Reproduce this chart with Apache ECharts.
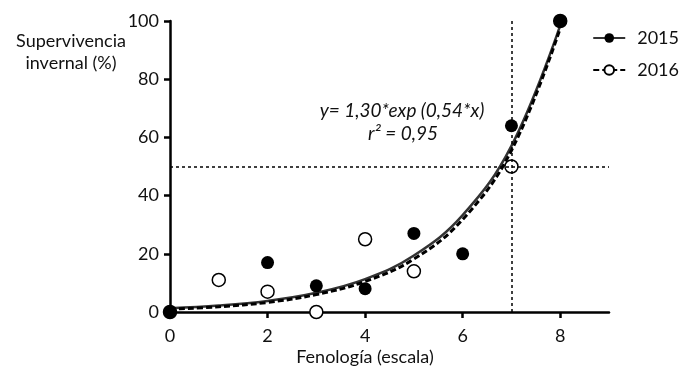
<!DOCTYPE html>
<html>
<head>
<meta charset="utf-8">
<script src="https://cdn.jsdelivr.net/npm/echarts@6/dist/echarts.min.js"></script>
<style>
  html, body { margin: 0; padding: 0; background: #fff; }
  #chart { width: 679px; height: 369px; }
</style>
</head>
<body>
<div id="chart"></div>
<script>
// observed points (fenologia, supervivencia %)
const obs2015 = [[0, 0], [2, 17], [3, 9], [4, 8], [5, 27], [6, 20], [7, 64], [8, 100]];
const obs2016 = [[0, 0], [1, 11], [2, 7], [3, 0], [4, 25], [5, 14], [7, 50], [8, 100]];

// fitted curves
const fitX = [0, 1, 2, 3, 4, 5, 6, 7, 8];
const fit2015 = [1.3, 2.2, 3.8, 6.6, 11.3, 19.4, 33.3, 57.1, 98.5];
const fit2016 = [1.0, 1.8, 3.3, 6.0, 10.5, 18.2, 31.8, 55.5, 97.5];

const xTicks = [0, 2, 4, 6, 8];
const refX = 7;
const refY = 50;

const chart = echarts.init(document.getElementById('chart'));
const font = 'Lato, "DejaVu Sans", sans-serif';

const option = {
  animation: false,
  textStyle: { fontFamily: font },
  grid: { left: 170, right: 70, top: 21, bottom: 57 },
  legend: {
    data: ['2015', '2016'],
    orient: 'vertical',
    right: 0,
    top: 29,
    padding: 0,
    itemWidth: 32,
    itemHeight: 12,
    itemGap: 14,
    textStyle: { fontSize: 18, color: '#111', fontFamily: font, padding: [0, 0, 0, 7], overflow: 'none' }
  },
  xAxis: {
    type: 'value',
    min: 0,
    max: 9,
    interval: 1,
    splitLine: { show: false },
    axisLine: { lineStyle: { color: '#000', width: 2.5 } },
    axisTick: { length: 6, lineStyle: { width: 2.5, color: '#000' }, customValues: xTicks },
    axisLabel: { fontSize: 18, color: '#111', margin: 15, customValues: xTicks }
  },
  yAxis: {
    type: 'value',
    min: 0,
    max: 100,
    interval: 20,
    splitLine: { show: false },
    axisLine: { show: true, lineStyle: { color: '#000', width: 2.5 } },
    axisTick: { show: true, length: 6, lineStyle: { width: 2.5, color: '#000' } },
    axisLabel: { fontSize: 18, color: '#111', margin: 11 }
  },
  graphic: [
    {
      type: 'text', x: 71, y: 41,
      style: { text: 'Supervivencia', fontSize: 18, fill: '#111', fontFamily: font, align: 'center', verticalAlign: 'middle' }
    },
    {
      type: 'text', x: 71, y: 63,
      style: { text: 'invernal (%)', fontSize: 18, fill: '#111', fontFamily: font, align: 'center', verticalAlign: 'middle' }
    },
    {
      type: 'text', x: 365, y: 357,
      style: { text: 'Fenología (escala)', fontSize: 18, fill: '#111', fontFamily: font, align: 'center', verticalAlign: 'middle' }
    },
    {
      type: 'text', x: 402, y: 111,
      style: { text: 'y= 1,30*exp (0,54*x)', fontSize: 19, fontStyle: 'italic', fill: '#111', fontFamily: font, align: 'center', verticalAlign: 'middle' }
    },
    {
      type: 'text', x: 403, y: 134,
      style: { text: 'r² = 0,95', fontSize: 19, fontStyle: 'italic', fill: '#111', fontFamily: font, align: 'center', verticalAlign: 'middle' }
    }
  ],
  series: [
    {
      name: '2015',
      type: 'line',
      smooth: 0.4,
      data: fitX.map((x, i) => [x, fit2015[i]]),
      showSymbol: false,
      symbol: 'circle',
      symbolSize: 12,
      itemStyle: { color: '#000' },
      lineStyle: { color: '#333', width: 2.5 },
      z: 2,
      markLine: {
        silent: true,
        symbol: 'none',
        label: { show: false },
        lineStyle: { color: '#000', width: 1.5, type: [3, 3] },
        data: [{ yAxis: refY }, { xAxis: refX }]
      }
    },
    {
      name: '2016',
      type: 'line',
      smooth: 0.4,
      data: fitX.map((x, i) => [x, fit2016[i]]),
      showSymbol: false,
      symbol: 'circle',
      symbolSize: 12,
      itemStyle: { color: '#fff', borderColor: '#000', borderWidth: 1.5 },
      lineStyle: { color: '#000', width: 3, type: [6, 3] },
      z: 3
    },
    {
      name: 'obs2016',
      type: 'scatter',
      data: obs2016,
      symbol: 'circle',
      symbolSize: 13,
      clip: false,
      itemStyle: { color: '#fff', borderColor: '#000', borderWidth: 1.5, opacity: 1 },
      z: 4
    },
    {
      name: 'obs2015',
      type: 'scatter',
      data: obs2015,
      symbol: 'circle',
      symbolSize: 13,
      clip: false,
      itemStyle: { color: '#000', opacity: 1 },
      z: 5
    }
  ]
};

chart.setOption(option);
</script>
</body>
</html>
